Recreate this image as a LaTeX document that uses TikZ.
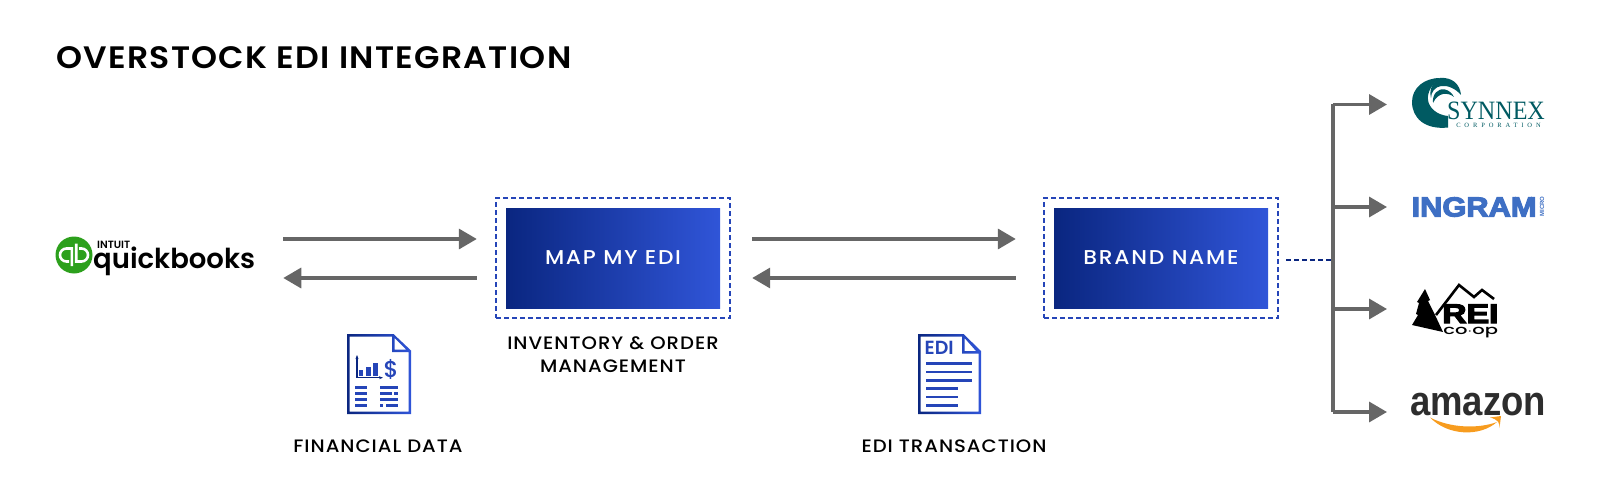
\documentclass[tikz,border=0pt]{standalone}
\usepackage{fontspec}
\usetikzlibrary{arrows.meta}
\setmainfont{Poppins}
\newfontfamily\titlefont[LetterSpace=4]{Poppins SemiBold}
\newfontfamily\labelfont[LetterSpace=5]{Poppins Medium}
\newfontfamily\boxfont[LetterSpace=8]{Poppins Medium}
\newfontfamily\qbfont{Poppins Medium}
\newfontfamily\qbheavy{Poppins SemiBold}
\newfontfamily\serifwide[LetterSpace=60]{Liberation Serif}
\newfontfamily\synnexfont{Liberation Serif}
\newfontfamily\heavyfont[FakeBold=4]{Liberation Sans Bold}
\newfontfamily\amazonfont{Liberation Sans Bold}
\definecolor{navyedge}{HTML}{0A2680}
\definecolor{blueedge}{HTML}{3055D8}
\definecolor{dashblue}{HTML}{2545B8}
\definecolor{flowgray}{HTML}{666666}
\definecolor{qbgreen}{HTML}{2CA01C}
\definecolor{synnexteal}{HTML}{005A62}
\definecolor{ingramblue}{HTML}{3E6FC4}
\definecolor{smileorange}{HTML}{F79C1F}
\definecolor{amazongray}{HTML}{2D2D2D}

\begin{document}
\begin{tikzpicture}
  [x=1pt,y=-1pt,
   flowline/.style={draw=flowgray,line width=3.5pt,-{Triangle[length=18pt,width=20pt]}},
   framebox/.style={draw=dashblue,line width=2.4pt,dash pattern=on 5pt off 3pt,
     minimum width=234pt,minimum height=120pt},
   gradbox/.style={left color=navyedge,right color=blueedge,minimum width=214pt,minimum height=100pt},
   boxtext/.style={text=white,xscale=1.09,font=\boxfont\fontsize{20}{24}\selectfont},
   caption/.style={align=center,xscale=1.09,font=\labelfont\fontsize{18}{23}\selectfont},
   docedge/.style={left color=navyedge,right color=blueedge,even odd rule},
   docline/.style={draw=dashblue,line width=2.6pt}]
  \useasboundingbox (0,0) rectangle (1600,500);

  \node[anchor=west,inner sep=0pt,xscale=1.067,font=\titlefont\fontsize{31}{36}\selectfont] (title) at (56,58) {OVERSTOCK EDI INTEGRATION};

  % boxes
  \node[framebox] (mapframe) at (613,258) {};
  \node[gradbox] (mapbox) at (613,258) {};
  \node[boxtext] (maptext) at (mapbox) {MAP MY EDI};
  \node[framebox] (brandframe) at (1161,258) {};
  \node[gradbox] (brandbox) at (1161,258) {};
  \node[boxtext] (brandtext) at (brandbox) {BRAND NAME};

  % captions
  \node[caption] (mapcap) at (613,354.5) {INVENTORY \& ORDER\\MANAGEMENT};
  \node[caption] (fincap) at (378,446) {FINANCIAL DATA};
  \node[caption] (edicap) at (954,446) {EDI TRANSACTION};

  % quickbooks
  \node[circle,fill=qbgreen,minimum size=37pt,inner sep=0pt] (qbmark) at (74,255) {};
  \draw[white,line width=2.6pt] (71.8,266) -- (71.8,248.5) -- (66.5,248.5) arc (270:90:6.5) -- (69,261.5);
  \draw[white,line width=2.6pt] (76.2,243.5) -- (76.2,261.5) -- (81.5,261.5) arc (90:-90:6.5) -- (79,248.5);
  \node[anchor=base west,inner sep=0pt,font=\qbheavy\fontsize{27.5}{36}\selectfont] (qblogo) at (93,268) {quickbooks};
  \node[anchor=base west,inner sep=0pt,font=\qbheavy\fontsize{10.5}{12}\selectfont] (intuit) at (97,248) {INTUIT};
  \coordinate (qbport) at (qblogo.east |- mapframe.west);

  % arrows between the boxes
  \draw[flowline] ([xshift=28pt,yshift=19pt]qbport) -- ([xshift=-18pt,yshift=19pt]mapframe.west);
  \draw[flowline] ([xshift=-18pt,yshift=-20pt]mapframe.west) -- ([xshift=28pt,yshift=-20pt]qbport);
  \draw[flowline] ([xshift=21pt,yshift=19pt]mapframe.east) -- ([xshift=-27pt,yshift=19pt]brandframe.west);
  \draw[flowline] ([xshift=-27pt,yshift=-20pt]brandframe.west) -- ([xshift=21pt,yshift=-20pt]mapframe.east);

  % fan out to the partners
  \coordinate (trunk) at (1333,259.5);
  \coordinate (fan1) at (1387,104.5);
  \coordinate (fan2) at (1387,207);
  \coordinate (fan3) at (1387,309);
  \coordinate (fan4) at (1387,412);
  \draw[navyedge,line width=2pt,dash pattern=on 5pt off 3pt] ([xshift=7pt,yshift=-1.5pt]brandframe.east) -- (trunk);
  \draw[flowgray,line width=3.5pt,line cap=square] (trunk |- fan1) -- (trunk |- fan4);
  \foreach \to in {fan1,fan2,fan3,fan4}
  \draw[flowline] (trunk |- \to) -- (\to);

  % synnex
  \fill[synnexteal] (1448,127.5) .. controls (1425,130) and (1412,118) .. (1412,102)
    .. controls (1412,88) and (1424,78) .. (1440,78)
    .. controls (1432,84) and (1427,92) .. (1428,100)
    .. controls (1429,108) and (1437,115) .. (1448,116) -- cycle;
  \fill[synnexteal] (1440,78) .. controls (1452,77) and (1460,84) .. (1461,95)
    .. controls (1456,89) and (1448,85) .. (1441,86)
    .. controls (1435,87) and (1431,92) .. (1431,98)
    .. controls (1429,90) and (1432,82) .. (1440,78);
  \fill[synnexteal] (1433,103) .. controls (1432,94) and (1438,88) .. (1445,89.5)
    .. controls (1449,90.5) and (1452,93) .. (1454,97)
    .. controls (1448,92) and (1438,92) .. (1433,103);
  \node[inner sep=0pt,xscale=.91,text=synnexteal,font=\synnexfont\fontsize{26.5}{28}\selectfont] (synnex) at (1496,110.5) {SYNNEX};
  \node[inner sep=0pt,text=synnexteal,font=\serifwide\fontsize{6.5}{8}\selectfont] (synnexcorp) at (1498.5,125.5) {CORPORATION};

  % ingram
  \node[inner sep=0pt,xscale=1.12,text=ingramblue,font=\heavyfont\fontsize{27.5}{30}\selectfont] (ingram) at (1474,207) {INGRAM};
  \node[inner sep=0pt,rotate=90,text=ingramblue,font=\amazonfont\fontsize{6}{7}\selectfont] (micro) at (1542,206.5) {MICRO};

  % rei
  \fill (1425,289) -- (1430,300) -- (1428,301) -- (1435,315) -- (1443,332) -- (1412,325) -- (1418,315) -- (1416,314) -- (1419,303) -- (1417,302) -- cycle;
  \draw[line width=2.6pt,line join=miter] (1436,315) -- (1459,285) -- (1474,297) -- (1482,290) -- (1494,299);
  \node[anchor=base west,inner sep=0pt,xscale=1.25,font=\heavyfont\fontsize{27}{30}\selectfont] (rei) at (1442,323) {REI};
  \node[anchor=base west,inner sep=0pt,xscale=1.5,font=\qbfont\fontsize{13}{15}\selectfont] (coop) at (1443,334) {co$\cdot$op};

  % amazon
  \node[anchor=base,inner sep=0pt,xscale=.88,text=amazongray,font=\amazonfont\fontsize{41.5}{46}\selectfont] (amazon) at (1478,415) {amazon};
  \fill[smileorange] (1430,417.5) .. controls (1448,436) and (1480,437) .. (1497,422)
    .. controls (1478,429) and (1450,428) .. cycle;
  \fill[smileorange] (1490,417.5) -- (1501,416) -- (1499.5,428) .. controls (1500,423) and (1498,419.5) .. (1490,417.5) -- cycle;

  % financial data icon
  \path[docedge] (347,334) -- (393.5,334) -- (411,350.5) -- (411,414) -- (347,414) -- cycle
    (349.5,336.5) -- (392,336.5) -- (392,352) -- (408.5,352) -- (408.5,411.5) -- (349.5,411.5) -- cycle
    (394.5,338) -- (406,349.5) -- (394.5,349.5) -- cycle;
  \draw[navyedge,line width=1.2pt,{Stealth[length=4pt]}-{Stealth[length=4pt]}] (357,355) -- (357,377.7) -- (383,377.7);
  \foreach \xa/\xb/\top in {359/363.3/370,366/370.7/366.7,373.3/377.7/362.7}
  \fill[dashblue] (\xa,\top) rectangle (\xb,376);
  \node[inner sep=0pt,text=dashblue,font=\qbfont\fontsize{23}{24}\selectfont] (dollar) at (391,369) {\$};
  \foreach \yrow in {387.3,393.3,399.3,405.7}
  \draw[docline] (355,\yrow) -- (367,\yrow);
  \foreach \xa/\xb/\yrow in {380/398/387.3,380/391.5/393.3,394/398/393.3,380/398/399.3,380/383/405.7,386/398/405.7}
  \draw[docline] (\xa,\yrow) -- (\xb,\yrow);

  % edi icon
  \path[docedge] (918,334) -- (963.5,334) -- (981,351) -- (981,414) -- (918,414) -- cycle
    (920.5,336.5) -- (962,336.5) -- (962,353.5) -- (978.5,353.5) -- (978.5,411.5) -- (920.5,411.5) -- cycle
    (964.5,338) -- (976,351) -- (964.5,351) -- cycle;
  \node[anchor=west,inner sep=0pt,text=dashblue,font=\qbheavy\fontsize{19}{20}\selectfont] (editag) at (924.5,348) {EDI};
  \foreach \xb/\yrow in {972/363.7,972/372,972/380.3,958/388.7,958/397,958/405.3}
  \draw[docline] (926,\yrow) -- (\xb,\yrow);
\end{tikzpicture}
\end{document}
